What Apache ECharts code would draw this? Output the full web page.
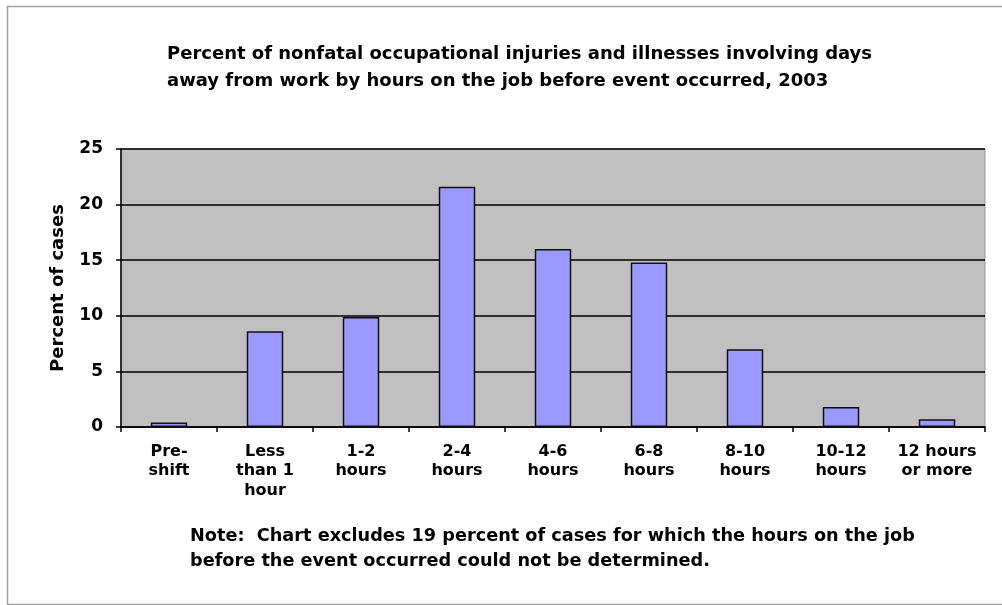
<!DOCTYPE html>
<html>
<head>
<meta charset="utf-8">
<script src="https://cdn.jsdelivr.net/npm/echarts@6/dist/echarts.min.js"></script>
<style>
html,body{margin:0;padding:0;background:#fff;}
#chart{width:1002px;height:605px;}
</style>
</head>
<body>
<div id="chart"></div>
<script>
var categories = ['Pre-\nshift', 'Less\nthan 1\nhour', '1-2\nhours', '2-4\nhours', '4-6\nhours', '6-8\nhours', '8-10\nhours', '10-12\nhours', '12 hours\nor more'];
var values = [0.4, 8.6, 9.9, 21.6, 16.0, 14.8, 7.0, 1.8, 0.7];
var yTicks = [0, 5, 10, 15, 20, 25];
var titleText = 'Percent of nonfatal occupational injuries and illnesses involving days\naway from work by hours on the job before event occurred, 2003';
var noteText = 'Note:  Chart excludes 19 percent of cases for which the hours on the job\nbefore the event occurred could not be determined.';
var yName = 'Percent of cases';

var FONT = 'DejaVu Sans';
var chart = echarts.init(document.getElementById('chart'));
chart.setOption({
  animation: false,
  backgroundColor: '#ffffff',
  title: {
    text: titleText,
    left: 162, top: 36,
    textStyle: {fontFamily: FONT, fontWeight: 'bold', fontSize: 18, lineHeight: 27, color: '#000'}
  },
  graphic: [
    {type: 'rect', left: 5, top: 4, shape: {width: 1100, height: 598}, style: {fill: 'none', stroke: '#a0a0a0', lineWidth: 1.5}, silent: true},
    {type: 'text', left: 190, top: 524, style: {text: noteText, fontFamily: FONT, fontWeight: 'bold', fontSize: 17.7, lineHeight: 25, fill: '#000'}}
  ],
  grid: {left: 121, right: 17, top: 149, bottom: 178, show: true, backgroundColor: '#c0c0c0', borderColor: '#999', borderWidth: 1},
  xAxis: {
    type: 'category',
    data: categories,
    axisLine: {lineStyle: {color: '#000', width: 1.5}},
    axisTick: {show: true, length: 5, lineStyle: {color: '#000', width: 1.5}},
    axisLabel: {fontFamily: FONT, fontWeight: 'bold', fontSize: 16, lineHeight: 19.5, color: '#000', margin: 15, interval: 0}
  },
  yAxis: {
    type: 'value',
    min: 0, max: 25, interval: 5,
    name: yName,
    nameLocation: 'middle',
    nameGap: 54,
    nameTextStyle: {fontFamily: FONT, fontWeight: 'bold', fontSize: 18, color: '#000'},
    axisLine: {show: true, lineStyle: {color: '#000', width: 1.5}},
    axisTick: {show: true, length: 5, lineStyle: {color: '#000', width: 1.5}},
    axisLabel: {fontFamily: FONT, fontWeight: 'bold', fontSize: 17, color: '#000', margin: 18,
      formatter: function (v) { return yTicks.indexOf(v) >= 0 ? String(v) : ''; }},
    splitLine: {show: true, lineStyle: {color: '#000', width: 1.5}}
  },
  series: [{
    type: 'bar',
    data: values,
    barWidth: '38%',
    itemStyle: {color: '#9999ff', borderColor: '#111', borderWidth: 1.5}
  }]
});
</script>
</body>
</html>
